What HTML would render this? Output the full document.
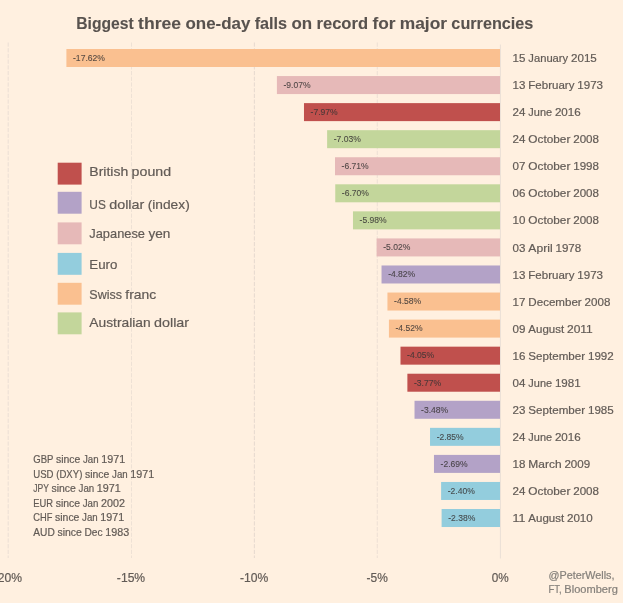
<!DOCTYPE html>
<html><head><meta charset="utf-8"><title>Biggest three one-day falls on record for major currencies</title>
<style>
html,body{margin:0;padding:0;background:#FFF0E0;}
body{width:623px;height:603px;overflow:hidden;}
svg{display:block;font-family:"Liberation Sans",sans-serif;}
text{stroke-width:0.2px;stroke-linejoin:round;}
text.v{stroke-width:0.1px;stroke-opacity:0.84;fill-opacity:0.84;}
text.t{stroke-width:0.1px;}
</style></head><body>
<svg width="623" height="603" viewBox="0 0 623 603">
<rect width="623" height="603" fill="#FFF0E0"/>
<line x1="8.20" y1="42.5" x2="8.20" y2="558" stroke="#E6DBD2" stroke-width="0.80" stroke-dasharray="4.2 1.5"/>
<line x1="131.50" y1="42.5" x2="131.50" y2="558" stroke="#E0D4CC" stroke-width="0.55" stroke-dasharray="4.2 1.5"/>
<line x1="254.40" y1="42.5" x2="254.40" y2="558" stroke="#D3C8C2" stroke-width="0.55" stroke-dasharray="4.2 1.5"/>
<line x1="377.25" y1="42.5" x2="377.25" y2="558" stroke="#DDD0C8" stroke-width="0.55" stroke-dasharray="4.2 1.5"/>
<line x1="500.4" y1="44.5" x2="500.4" y2="558.5" stroke="#EADFD6" stroke-width="1"/>
<rect x="66.40" y="49.00" width="433.60" height="18.00" fill="#FAC090"/>
<text y="60.80" font-size="8.92" fill="#383434" stroke="#383434" class="v"><tspan x="73.00" textLength="32.02" lengthAdjust="spacingAndGlyphs">-17.62%</tspan></text>
<text y="61.90" font-size="10.92" fill="#625B56" stroke="#625B56"><tspan x="512.60" textLength="12.87" lengthAdjust="spacingAndGlyphs">15</tspan> <tspan x="528.35" textLength="39.80" lengthAdjust="spacingAndGlyphs">January</tspan> <tspan x="571.02" textLength="25.75" lengthAdjust="spacingAndGlyphs">2015</tspan></text>
<rect x="276.90" y="76.06" width="223.10" height="18.00" fill="#E6B9B8"/>
<text y="87.86" font-size="8.92" fill="#383434" stroke="#383434" class="v"><tspan x="283.50" textLength="27.10" lengthAdjust="spacingAndGlyphs">-9.07%</tspan></text>
<text y="88.98" font-size="10.92" fill="#625B56" stroke="#625B56"><tspan x="512.60" textLength="12.87" lengthAdjust="spacingAndGlyphs">13</tspan> <tspan x="528.35" textLength="46.06" lengthAdjust="spacingAndGlyphs">February</tspan> <tspan x="577.28" textLength="25.75" lengthAdjust="spacingAndGlyphs">1973</tspan></text>
<rect x="303.98" y="103.12" width="196.02" height="18.00" fill="#C0504D"/>
<text y="114.92" font-size="8.92" fill="#383434" stroke="#383434" class="v"><tspan x="310.58" textLength="27.10" lengthAdjust="spacingAndGlyphs">-7.97%</tspan></text>
<text y="116.07" font-size="10.92" fill="#625B56" stroke="#625B56"><tspan x="512.60" textLength="12.87" lengthAdjust="spacingAndGlyphs">24</tspan> <tspan x="528.35" textLength="23.72" lengthAdjust="spacingAndGlyphs">June</tspan> <tspan x="554.93" textLength="25.75" lengthAdjust="spacingAndGlyphs">2016</tspan></text>
<rect x="327.12" y="130.18" width="172.88" height="18.00" fill="#C3D69B"/>
<text y="141.98" font-size="8.92" fill="#383434" stroke="#383434" class="v"><tspan x="333.72" textLength="27.10" lengthAdjust="spacingAndGlyphs">-7.03%</tspan></text>
<text y="143.16" font-size="10.92" fill="#625B56" stroke="#625B56"><tspan x="512.60" textLength="12.87" lengthAdjust="spacingAndGlyphs">24</tspan> <tspan x="528.35" textLength="42.03" lengthAdjust="spacingAndGlyphs">October</tspan> <tspan x="573.24" textLength="25.75" lengthAdjust="spacingAndGlyphs">2008</tspan></text>
<rect x="335.00" y="157.24" width="165.00" height="18.00" fill="#E6B9B8"/>
<text y="169.04" font-size="8.92" fill="#383434" stroke="#383434" class="v"><tspan x="341.60" textLength="27.10" lengthAdjust="spacingAndGlyphs">-6.71%</tspan></text>
<text y="170.24" font-size="10.92" fill="#625B56" stroke="#625B56"><tspan x="512.60" textLength="12.87" lengthAdjust="spacingAndGlyphs">07</tspan> <tspan x="528.35" textLength="42.03" lengthAdjust="spacingAndGlyphs">October</tspan> <tspan x="573.24" textLength="25.75" lengthAdjust="spacingAndGlyphs">1998</tspan></text>
<rect x="335.25" y="184.30" width="164.75" height="18.00" fill="#C3D69B"/>
<text y="196.10" font-size="8.92" fill="#383434" stroke="#383434" class="v"><tspan x="341.85" textLength="27.10" lengthAdjust="spacingAndGlyphs">-6.70%</tspan></text>
<text y="197.33" font-size="10.92" fill="#625B56" stroke="#625B56"><tspan x="512.60" textLength="12.87" lengthAdjust="spacingAndGlyphs">06</tspan> <tspan x="528.35" textLength="42.03" lengthAdjust="spacingAndGlyphs">October</tspan> <tspan x="573.24" textLength="25.75" lengthAdjust="spacingAndGlyphs">2008</tspan></text>
<rect x="352.97" y="211.36" width="147.03" height="18.00" fill="#C3D69B"/>
<text y="223.16" font-size="8.92" fill="#383434" stroke="#383434" class="v"><tspan x="359.57" textLength="27.10" lengthAdjust="spacingAndGlyphs">-5.98%</tspan></text>
<text y="224.41" font-size="10.92" fill="#625B56" stroke="#625B56"><tspan x="512.60" textLength="12.87" lengthAdjust="spacingAndGlyphs">10</tspan> <tspan x="528.35" textLength="42.03" lengthAdjust="spacingAndGlyphs">October</tspan> <tspan x="573.24" textLength="25.75" lengthAdjust="spacingAndGlyphs">2008</tspan></text>
<rect x="376.61" y="238.42" width="123.39" height="18.00" fill="#E6B9B8"/>
<text y="250.22" font-size="8.92" fill="#383434" stroke="#383434" class="v"><tspan x="383.21" textLength="27.10" lengthAdjust="spacingAndGlyphs">-5.02%</tspan></text>
<text y="251.50" font-size="10.92" fill="#625B56" stroke="#625B56"><tspan x="512.60" textLength="12.87" lengthAdjust="spacingAndGlyphs">03</tspan> <tspan x="528.35" textLength="24.28" lengthAdjust="spacingAndGlyphs">April</tspan> <tspan x="555.50" textLength="25.75" lengthAdjust="spacingAndGlyphs">1978</tspan></text>
<rect x="381.53" y="265.48" width="118.47" height="18.00" fill="#B3A2C7"/>
<text y="277.28" font-size="8.92" fill="#383434" stroke="#383434" class="v"><tspan x="388.13" textLength="27.10" lengthAdjust="spacingAndGlyphs">-4.82%</tspan></text>
<text y="278.58" font-size="10.92" fill="#625B56" stroke="#625B56"><tspan x="512.60" textLength="12.87" lengthAdjust="spacingAndGlyphs">13</tspan> <tspan x="528.35" textLength="46.06" lengthAdjust="spacingAndGlyphs">February</tspan> <tspan x="577.28" textLength="25.75" lengthAdjust="spacingAndGlyphs">1973</tspan></text>
<rect x="387.44" y="292.54" width="112.56" height="18.00" fill="#FAC090"/>
<text y="304.34" font-size="8.92" fill="#383434" stroke="#383434" class="v"><tspan x="394.04" textLength="27.10" lengthAdjust="spacingAndGlyphs">-4.58%</tspan></text>
<text y="305.67" font-size="10.92" fill="#625B56" stroke="#625B56"><tspan x="512.60" textLength="12.87" lengthAdjust="spacingAndGlyphs">17</tspan> <tspan x="528.35" textLength="53.39" lengthAdjust="spacingAndGlyphs">December</tspan> <tspan x="584.60" textLength="25.75" lengthAdjust="spacingAndGlyphs">2008</tspan></text>
<rect x="388.92" y="319.60" width="111.08" height="18.00" fill="#FAC090"/>
<text y="331.40" font-size="8.92" fill="#383434" stroke="#383434" class="v"><tspan x="395.52" textLength="27.10" lengthAdjust="spacingAndGlyphs">-4.52%</tspan></text>
<text y="332.75" font-size="10.92" fill="#625B56" stroke="#625B56"><tspan x="512.60" textLength="12.87" lengthAdjust="spacingAndGlyphs">09</tspan> <tspan x="528.35" textLength="35.75" lengthAdjust="spacingAndGlyphs">August</tspan> <tspan x="566.97" textLength="25.75" lengthAdjust="spacingAndGlyphs">2011</tspan></text>
<rect x="400.49" y="346.66" width="99.51" height="18.00" fill="#C0504D"/>
<text y="358.46" font-size="8.92" fill="#383434" stroke="#383434" class="v"><tspan x="407.09" textLength="27.10" lengthAdjust="spacingAndGlyphs">-4.05%</tspan></text>
<text y="359.83" font-size="10.92" fill="#625B56" stroke="#625B56"><tspan x="512.60" textLength="12.87" lengthAdjust="spacingAndGlyphs">16</tspan> <tspan x="528.35" textLength="56.77" lengthAdjust="spacingAndGlyphs">September</tspan> <tspan x="587.99" textLength="25.75" lengthAdjust="spacingAndGlyphs">1992</tspan></text>
<rect x="407.38" y="373.72" width="92.62" height="18.00" fill="#C0504D"/>
<text y="385.52" font-size="8.92" fill="#383434" stroke="#383434" class="v"><tspan x="413.98" textLength="27.10" lengthAdjust="spacingAndGlyphs">-3.77%</tspan></text>
<text y="386.92" font-size="10.92" fill="#625B56" stroke="#625B56"><tspan x="512.60" textLength="12.87" lengthAdjust="spacingAndGlyphs">04</tspan> <tspan x="528.35" textLength="23.72" lengthAdjust="spacingAndGlyphs">June</tspan> <tspan x="554.93" textLength="25.75" lengthAdjust="spacingAndGlyphs">1981</tspan></text>
<rect x="414.52" y="400.78" width="85.48" height="18.00" fill="#B3A2C7"/>
<text y="412.58" font-size="8.92" fill="#383434" stroke="#383434" class="v"><tspan x="421.12" textLength="27.10" lengthAdjust="spacingAndGlyphs">-3.48%</tspan></text>
<text y="414.00" font-size="10.92" fill="#625B56" stroke="#625B56"><tspan x="512.60" textLength="12.87" lengthAdjust="spacingAndGlyphs">23</tspan> <tspan x="528.35" textLength="56.77" lengthAdjust="spacingAndGlyphs">September</tspan> <tspan x="587.99" textLength="25.75" lengthAdjust="spacingAndGlyphs">1985</tspan></text>
<rect x="430.03" y="427.84" width="69.97" height="18.00" fill="#93CDDD"/>
<text y="439.64" font-size="8.92" fill="#383434" stroke="#383434" class="v"><tspan x="436.63" textLength="27.10" lengthAdjust="spacingAndGlyphs">-2.85%</tspan></text>
<text y="441.09" font-size="10.92" fill="#625B56" stroke="#625B56"><tspan x="512.60" textLength="12.87" lengthAdjust="spacingAndGlyphs">24</tspan> <tspan x="528.35" textLength="23.72" lengthAdjust="spacingAndGlyphs">June</tspan> <tspan x="554.93" textLength="25.75" lengthAdjust="spacingAndGlyphs">2016</tspan></text>
<rect x="433.97" y="454.90" width="66.03" height="18.00" fill="#B3A2C7"/>
<text y="466.70" font-size="8.92" fill="#383434" stroke="#383434" class="v"><tspan x="440.57" textLength="27.10" lengthAdjust="spacingAndGlyphs">-2.69%</tspan></text>
<text y="468.18" font-size="10.92" fill="#625B56" stroke="#625B56"><tspan x="512.60" textLength="12.87" lengthAdjust="spacingAndGlyphs">18</tspan> <tspan x="528.35" textLength="33.23" lengthAdjust="spacingAndGlyphs">March</tspan> <tspan x="564.44" textLength="25.75" lengthAdjust="spacingAndGlyphs">2009</tspan></text>
<rect x="441.11" y="481.96" width="58.89" height="18.00" fill="#93CDDD"/>
<text y="493.76" font-size="8.92" fill="#383434" stroke="#383434" class="v"><tspan x="447.71" textLength="27.10" lengthAdjust="spacingAndGlyphs">-2.40%</tspan></text>
<text y="495.26" font-size="10.92" fill="#625B56" stroke="#625B56"><tspan x="512.60" textLength="12.87" lengthAdjust="spacingAndGlyphs">24</tspan> <tspan x="528.35" textLength="42.03" lengthAdjust="spacingAndGlyphs">October</tspan> <tspan x="573.24" textLength="25.75" lengthAdjust="spacingAndGlyphs">2008</tspan></text>
<rect x="441.60" y="509.02" width="58.40" height="18.00" fill="#93CDDD"/>
<text y="520.82" font-size="8.92" fill="#383434" stroke="#383434" class="v"><tspan x="448.20" textLength="27.10" lengthAdjust="spacingAndGlyphs">-2.38%</tspan></text>
<text y="522.35" font-size="10.92" fill="#625B56" stroke="#625B56"><tspan x="512.60" textLength="12.87" lengthAdjust="spacingAndGlyphs">11</tspan> <tspan x="528.35" textLength="35.75" lengthAdjust="spacingAndGlyphs">August</tspan> <tspan x="566.97" textLength="25.75" lengthAdjust="spacingAndGlyphs">2010</tspan></text>
<text y="28.90" font-size="16.55" fill="#58524E" stroke="#58524E" font-weight="bold" class="t"><tspan x="76.20" textLength="57.55" lengthAdjust="spacingAndGlyphs">Biggest</tspan> <tspan x="138.10" textLength="43.01" lengthAdjust="spacingAndGlyphs">three</tspan> <tspan x="185.47" textLength="64.86" lengthAdjust="spacingAndGlyphs">one-day</tspan> <tspan x="254.68" textLength="32.42" lengthAdjust="spacingAndGlyphs">falls</tspan> <tspan x="291.45" textLength="20.68" lengthAdjust="spacingAndGlyphs">on</tspan> <tspan x="316.48" textLength="51.57" lengthAdjust="spacingAndGlyphs">record</tspan> <tspan x="372.40" textLength="22.99" lengthAdjust="spacingAndGlyphs">for</tspan> <tspan x="399.74" textLength="47.27" lengthAdjust="spacingAndGlyphs">major</tspan> <tspan x="451.36" textLength="82.03" lengthAdjust="spacingAndGlyphs">currencies</tspan></text>
<rect x="57.7" y="162.70" width="23.9" height="21.9" fill="#C0504D"/>
<text y="176.20" font-size="12.90" fill="#625B56" stroke="#625B56"><tspan x="89.30" textLength="38.94" lengthAdjust="spacingAndGlyphs">British</tspan> <tspan x="131.63" textLength="39.44" lengthAdjust="spacingAndGlyphs">pound</tspan></text>
<rect x="57.7" y="191.80" width="23.9" height="21.9" fill="#B3A2C7"/>
<text y="208.70" font-size="12.90" fill="#625B56" stroke="#625B56"><tspan x="89.30" textLength="16.52" lengthAdjust="spacingAndGlyphs">US</tspan> <tspan x="109.21" textLength="35.09" lengthAdjust="spacingAndGlyphs">dollar</tspan> <tspan x="147.69" textLength="42.04" lengthAdjust="spacingAndGlyphs">(index)</tspan></text>
<rect x="57.7" y="222.40" width="23.9" height="21.9" fill="#E6B9B8"/>
<text y="238.10" font-size="12.90" fill="#625B56" stroke="#625B56"><tspan x="89.30" textLength="55.71" lengthAdjust="spacingAndGlyphs">Japanese</tspan> <tspan x="148.40" textLength="21.95" lengthAdjust="spacingAndGlyphs">yen</tspan></text>
<rect x="57.7" y="252.90" width="23.9" height="21.9" fill="#93CDDD"/>
<text y="269.10" font-size="12.90" fill="#625B56" stroke="#625B56"><tspan x="89.30" textLength="28.10" lengthAdjust="spacingAndGlyphs">Euro</tspan></text>
<rect x="57.7" y="282.80" width="23.9" height="21.9" fill="#FAC090"/>
<text y="298.70" font-size="12.90" fill="#625B56" stroke="#625B56"><tspan x="89.30" textLength="32.67" lengthAdjust="spacingAndGlyphs">Swiss</tspan> <tspan x="125.36" textLength="30.91" lengthAdjust="spacingAndGlyphs">franc</tspan></text>
<rect x="57.7" y="312.40" width="23.9" height="21.9" fill="#C3D69B"/>
<text y="327.30" font-size="12.90" fill="#625B56" stroke="#625B56"><tspan x="89.30" textLength="61.35" lengthAdjust="spacingAndGlyphs">Australian</tspan> <tspan x="154.04" textLength="35.09" lengthAdjust="spacingAndGlyphs">dollar</tspan></text>
<text y="463.00" font-size="10.15" fill="#625B56" stroke="#625B56"><tspan x="33.30" textLength="19.96" lengthAdjust="spacingAndGlyphs">GBP</tspan> <tspan x="55.93" textLength="24.38" lengthAdjust="spacingAndGlyphs">since</tspan> <tspan x="82.98" textLength="15.62" lengthAdjust="spacingAndGlyphs">Jan</tspan> <tspan x="101.26" textLength="23.92" lengthAdjust="spacingAndGlyphs">1971</tspan></text>
<text y="477.50" font-size="10.15" fill="#625B56" stroke="#625B56"><tspan x="33.30" textLength="20.25" lengthAdjust="spacingAndGlyphs">USD</tspan> <tspan x="56.22" textLength="26.11" lengthAdjust="spacingAndGlyphs">(DXY)</tspan> <tspan x="85.00" textLength="24.38" lengthAdjust="spacingAndGlyphs">since</tspan> <tspan x="112.06" textLength="15.62" lengthAdjust="spacingAndGlyphs">Jan</tspan> <tspan x="130.34" textLength="23.92" lengthAdjust="spacingAndGlyphs">1971</tspan></text>
<text y="492.00" font-size="10.15" fill="#625B56" stroke="#625B56"><tspan x="33.30" textLength="15.55" lengthAdjust="spacingAndGlyphs">JPY</tspan> <tspan x="51.51" textLength="24.38" lengthAdjust="spacingAndGlyphs">since</tspan> <tspan x="78.57" textLength="15.62" lengthAdjust="spacingAndGlyphs">Jan</tspan> <tspan x="96.85" textLength="23.92" lengthAdjust="spacingAndGlyphs">1971</tspan></text>
<text y="506.50" font-size="10.15" fill="#625B56" stroke="#625B56"><tspan x="33.30" textLength="19.74" lengthAdjust="spacingAndGlyphs">EUR</tspan> <tspan x="55.71" textLength="24.38" lengthAdjust="spacingAndGlyphs">since</tspan> <tspan x="82.76" textLength="15.62" lengthAdjust="spacingAndGlyphs">Jan</tspan> <tspan x="101.04" textLength="23.92" lengthAdjust="spacingAndGlyphs">2002</tspan></text>
<text y="521.00" font-size="10.15" fill="#625B56" stroke="#625B56"><tspan x="33.30" textLength="19.07" lengthAdjust="spacingAndGlyphs">CHF</tspan> <tspan x="55.04" textLength="24.38" lengthAdjust="spacingAndGlyphs">since</tspan> <tspan x="82.09" textLength="15.62" lengthAdjust="spacingAndGlyphs">Jan</tspan> <tspan x="100.37" textLength="23.92" lengthAdjust="spacingAndGlyphs">1971</tspan></text>
<text y="535.50" font-size="10.15" fill="#625B56" stroke="#625B56"><tspan x="33.30" textLength="21.47" lengthAdjust="spacingAndGlyphs">AUD</tspan> <tspan x="57.44" textLength="24.38" lengthAdjust="spacingAndGlyphs">since</tspan> <tspan x="84.49" textLength="18.12" lengthAdjust="spacingAndGlyphs">Dec</tspan> <tspan x="105.28" textLength="23.92" lengthAdjust="spacingAndGlyphs">1983</tspan></text>
<text y="582.00" font-size="11.95" fill="#625B56" stroke="#625B56"><tspan x="-6.24" textLength="28.28" lengthAdjust="spacingAndGlyphs">-20%</tspan></text>
<text y="582.00" font-size="11.95" fill="#625B56" stroke="#625B56"><tspan x="116.86" textLength="28.28" lengthAdjust="spacingAndGlyphs">-15%</tspan></text>
<text y="582.00" font-size="11.95" fill="#625B56" stroke="#625B56"><tspan x="239.96" textLength="28.28" lengthAdjust="spacingAndGlyphs">-10%</tspan></text>
<text y="582.00" font-size="11.95" fill="#625B56" stroke="#625B56"><tspan x="366.58" textLength="21.24" lengthAdjust="spacingAndGlyphs">-5%</tspan></text>
<text y="582.00" font-size="11.95" fill="#625B56" stroke="#625B56"><tspan x="491.81" textLength="16.98" lengthAdjust="spacingAndGlyphs">0%</tspan></text>
<text y="578.50" font-size="10.32" fill="#85807B" stroke="#85807B"><tspan x="548.50" textLength="66.04" lengthAdjust="spacingAndGlyphs">@PeterWells,</tspan></text>
<text y="592.60" font-size="10.32" fill="#85807B" stroke="#85807B"><tspan x="548.50" textLength="13.13" lengthAdjust="spacingAndGlyphs">FT,</tspan> <tspan x="564.34" textLength="53.47" lengthAdjust="spacingAndGlyphs">Bloomberg</tspan></text>
</svg>
</body></html>
